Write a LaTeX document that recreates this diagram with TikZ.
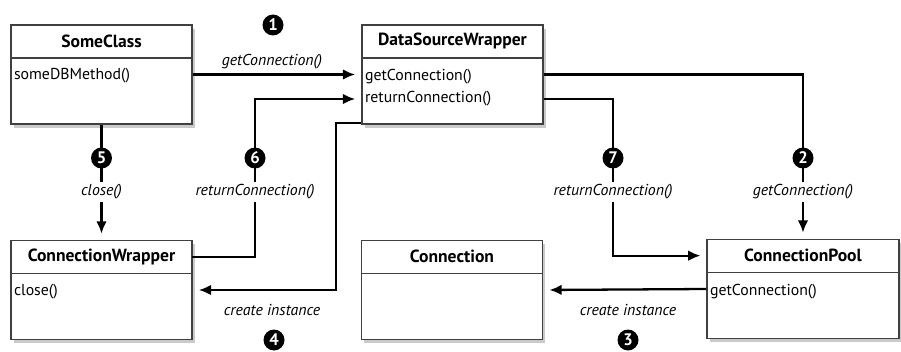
\documentclass[tikz,border=0pt]{standalone}
\usepackage{fontspec}
\setmainfont{PT Sans}
\usetikzlibrary{positioning, arrows.meta, calc, shadows}

\begin{document}
\begin{tikzpicture}[x=0.02cm, y=-0.02cm,
    classbox/.style={draw=black!75, line width=0.8pt, fill=white, inner sep=0pt,
        minimum width=3.62cm, minimum height=1.98cm,
        drop shadow={shadow xshift=1.5pt, shadow yshift=-2pt, opacity=0.35, fill=black!60}},
    classtitle/.style={inner sep=0pt, minimum width=3.62cm, minimum height=0.66cm,
        font=\fontsize{10}{12}\selectfont\bfseries},
    divider/.style={draw=black!75, line width=0.8pt},
    method/.style={inner sep=0pt, anchor=west, font=\fontsize{9}{11}\selectfont},
    flow/.style={-{Latex[length=7pt,width=6pt]}, line width=1.3pt, shorten >=3.5pt},
    msg/.style={fill=white, inner sep=1.5pt, font=\fontsize{9}{11}\selectfont\itshape},
    stepnum/.style={circle, fill=black, text=white, inner sep=0pt, minimum size=0.42cm,
        font=\fontsize{9.5}{10}\selectfont\bfseries}]

    \useasboundingbox (0,0) rectangle (901,351);

    % --- Classes ---
    % SomeClass
    \node[classbox] (sc) at (101.5,74.5) {};
    \node[classtitle, anchor=north] (sc-title) at (sc.north) {SomeClass};
    \draw[divider] (sc-title.south west) -- (sc-title.south east);
    \node[method] (sc-m1) at ($(sc-title.south west)+(3,18)$) {someDBMethod()};

    % DataSourceWrapper
    \node[classbox] (dsw) at (452.5,74.5) {};
    \node[classtitle, anchor=north] (dsw-title) at (dsw.north) {DataSourceWrapper};
    \draw[divider] (dsw-title.south west) -- (dsw-title.south east);
    \node[method] (dsw-m1) at ($(dsw-title.south west)+(3,19)$) {getConnection()};
    \node[method] (dsw-m2) at ($(dsw-title.south west)+(3,41)$) {returnConnection()};

    % ConnectionWrapper
    \node[classbox] (cw) at (101.5,290) {};
    \node[classtitle, anchor=north] (cw-title) at (cw.north) {ConnectionWrapper};
    \draw[divider] (cw-title.south west) -- (cw-title.south east);
    \node[method] (cw-m1) at ($(cw-title.south west)+(3,18)$) {close()};

    % Connection
    \node[classbox] (conn) at (452,290) {};
    \node[classtitle, anchor=north] (conn-title) at (conn.north) {Connection};
    \draw[divider] (conn-title.south west) -- (conn-title.south east);

    % ConnectionPool
    \node[classbox, minimum width=3.84cm] (pool) at (803,289) {};
    \node[classtitle, minimum width=3.84cm, anchor=north] (pool-title) at (pool.north) {ConnectionPool};
    \draw[divider] (pool-title.south west) -- (pool-title.south east);
    \node[method] (pool-m1) at ($(pool-title.south west)+(3,19)$) {getConnection()};

    % Bends of the return lines
    \coordinate (c6) at (255,158);
    \coordinate (c7) at (613,158);

    % --- Messages ---
    \draw[flow] (sc.east) -- (dsw.west);
    \draw[flow] (dsw.east) -| (pool.north);
    \draw[flow] (dsw.east |- dsw-m2) -| (c7) |- (pool-title.west);
    \draw[flow] (sc.south) -- (cw.north);
    \draw[flow] (cw-title.east) -| (c6) |- (dsw.west |- dsw-m2);
    \draw[flow] ($(dsw.south west)+(0,-2)$) -- ++(-25,0) |- (cw.east);
    \draw[flow] (pool.west) -- (conn.east);

    % Labels on top of the lines
    \node[msg] (l1) at (272,62) {getConnection()};
    \node[msg] (l2) at (pool.north |- 0,192) {getConnection()};
    \node[msg] (l5) at (sc.south |- 0,192) {close()};
    \node[msg] (l6) at (c6 |- 0,192) {returnConnection()};
    \node[msg] (l7) at (c7 |- 0,192) {returnConnection()};
    \node[msg] (l4) at (272,310) {create instance};
    \node[msg] (l3) at (628,310) {create instance};

    % Step numbers
    \node[stepnum] (n1) at (273,25) {1};
    \node[stepnum] (n2) at (pool.north |- c7) {2};
    \node[stepnum] (n3) at (628,340) {3};
    \node[stepnum] (n4) at (274,340) {4};
    \node[stepnum] (n5) at (sc.south |- c6) {5};
    \node[stepnum] (n6) at (c6) {6};
    \node[stepnum] (n7) at (c7) {7};

\end{tikzpicture}
\end{document}
